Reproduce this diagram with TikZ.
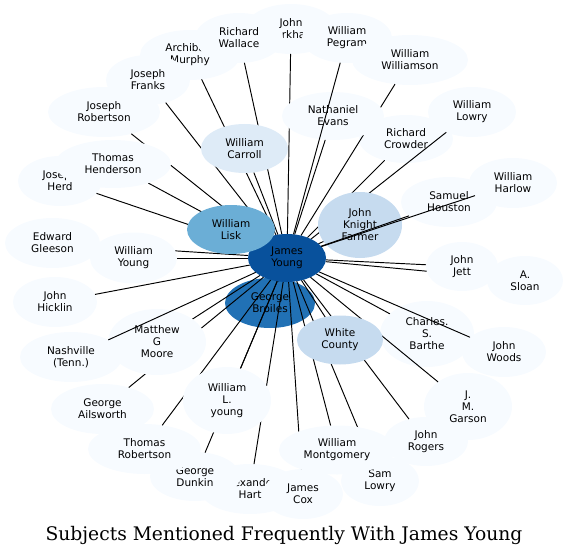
\documentclass[tikz,border=0pt]{standalone}
\usepackage{fontspec}
\newfontfamily\nodefont{DejaVu Sans}
\newfontfamily\titlefont{DejaVu Serif}
\usetikzlibrary{shapes.geometric}
\definecolor{cA}{HTML}{F7FBFF}
\definecolor{cB}{HTML}{DEEBF7}
\definecolor{cC}{HTML}{C6DBEF}
\definecolor{cE}{HTML}{6BAED6}
\definecolor{cG}{HTML}{2171B5}
\definecolor{cH}{HTML}{08519C}
\tikzset{
  anchorshape/.style={ellipse, inner sep=0pt, outer sep=0pt, draw=none},
  lbl/.style={font=\nodefont\fontsize{10.5}{12}\selectfont, align=center, inner sep=0pt, text=black},
  link/.style={draw=black, line width=0.95pt},
}
\newcommand\defnode[5]{%
  \expandafter\gdef\csname nrx#1\endcsname{#4}%
  \expandafter\gdef\csname nry#1\endcsname{#5}%
  \node[anchorshape, minimum width={2*#4pt}, minimum height={2*#5pt}] (#1) at (#2,#3) {};}
\newcommand\shownode[3]{%
  \path[fill=#2] (#1.center) ellipse [x radius={\csname nrx#1\endcsname pt}, y radius={\csname nry#1\endcsname pt}];
  \node[lbl] at (#1.center) {#3};}
\newcommand\lnk[1]{\draw[link] (jy) -- (#1);}
\begin{document}
\begin{tikzpicture}[x=1pt,y=-1pt]
\useasboundingbox (0,0) rectangle (569,556);
% ---- node geometry (invisible, for names) ----
\defnode{jm}{291}{29}{46}{25}
\defnode{rw}{239}{38}{44}{25}
\defnode{wp}{347}{38}{45}{25}
\defnode{am}{190}{55}{50}{25}
\defnode{jf}{148}{80}{42}{25}
\defnode{jr}{104}{112}{56}{25}
\defnode{ww}{410}{60}{58}{25}
\defnode{ne}{333}{116}{51}{24}
\defnode{wl}{472}{112}{44}{25}
\defnode{rc}{406}{139}{47}{24}
\defnode{wc}{244.5}{148.5}{43.5}{24.5}
\defnode{th}{113}{164}{58}{24}
\defnode{jh}{60}{181}{42}{25}
\defnode{wh}{513}{183}{44}{25}
\defnode{sh}{449}{202}{48}{25}
\defnode{jkf}{360}{225}{42}{33}
\defnode{lisk}{231}{229.5}{44}{24.5}
\defnode{eg}{52.5}{243}{47.5}{25}
\defnode{wy}{133.5}{258}{43.5}{25.5}
\defnode{jy}{287}{258}{39}{24}
\defnode{jj}{462}{266.5}{36}{24.5}
\defnode{as}{525}{280.5}{38}{24.5}
\defnode{jhk}{55}{302}{42}{25}
\defnode{gb}{270}{303}{45}{25}
\defnode{wco}{340}{340}{43}{24.5}
\defnode{csb}{427}{334}{47}{33}
\defnode{jw}{504}{352}{42}{25}
\defnode{mgm}{157}{342}{49}{33}
\defnode{nash}{71}{357}{51}{25}
\defnode{jmg}{468}{406.5}{44}{33.5}
\defnode{ga}{102.5}{409}{51.5}{25}
\defnode{wly}{227}{400.5}{44}{33.5}
\defnode{tr}{144.5}{449}{56.5}{25}
\defnode{jro}{426}{441.5}{42}{24.5}
\defnode{wm}{337}{450}{58}{24.5}
\defnode{gd}{195}{476.5}{45}{24.5}
\defnode{ah}{250}{489}{50}{25}
\defnode{jc}{303}{494}{40}{25}
\defnode{sl}{380}{481}{39}{25}
% ---- phase 1: nodes under the edges ----
\shownode{gb}{cG}{George\\Broiles}
\shownode{jm}{cA}{John\\Markham}
\shownode{am}{cA}{Archibald\\Murphy}
\shownode{rw}{cA}{Richard\\Wallace}
\shownode{wp}{cA}{William\\Pegram}
\shownode{ww}{cA}{William\\Williamson}
\shownode{jf}{cA}{Joseph\\Franks}
\shownode{jr}{cA}{Joseph\\Robertson}
\shownode{jh}{cA}{Joseph\\Herd}
\shownode{eg}{cA}{Edward\\Gleeson}
\shownode{jhk}{cA}{John\\Hicklin}
\shownode{nash}{cA}{Nashville\\(Tenn.)}
\shownode{ga}{cA}{George\\Ailsworth}
\shownode{ah}{cA}{Alexander\\Hart}
\shownode{gd}{cA}{George\\Dunkin}
\shownode{tr}{cA}{Thomas\\Robertson}
\shownode{jc}{cA}{James\\Cox}
\shownode{sl}{cA}{Sam\\Lowry}
\shownode{as}{cA}{A.\\Sloan}
\shownode{wh}{cA}{William\\Harlow}
\shownode{wl}{cA}{William\\Lowry}
\shownode{rc}{cA}{Richard\\Crowder}
\shownode{sh}{cA}{Samuel\\Houston}
\shownode{csb}{cA}{Charles.\\S.\\Barthe}
\shownode{jw}{cA}{John\\Woods}
\shownode{jmg}{cA}{J.\\M.\\Garson}
\shownode{jro}{cA}{John\\Rogers}
% ---- phase 2: edges under the later nodes ----
\lnk{jm}\lnk{rw}\lnk{am}\lnk{jf}\lnk{jr}\lnk{ww}\lnk{ne}\lnk{wl}\lnk{rc}
\lnk{wc}\lnk{th}\lnk{jh}\lnk{jkf}\lnk{lisk}\lnk{eg}\lnk{wy}\lnk{jj}\lnk{as}
\lnk{jhk}\lnk{gb}\lnk{wco}\lnk{csb}\lnk{jw}\lnk{mgm}\lnk{jmg}\lnk{ga}\lnk{wly}
\lnk{tr}\lnk{jro}\lnk{wm}\lnk{gd}\lnk{ah}\lnk{jc}\lnk{sl}
% ---- phase 3: nodes over the edges ----
\shownode{th}{cA}{Thomas\\Henderson}
\shownode{wc}{cB}{William\\Carroll}
\shownode{ne}{cA}{Nathaniel\\Evans}
\shownode{jkf}{cC}{John\\Knight\\Farmer}
\shownode{mgm}{cA}{Matthew\\G\\Moore}
\shownode{wly}{cA}{William\\L.\\young}
\shownode{wm}{cA}{William\\Montgomery}
\shownode{jj}{cA}{John\\Jett}
\shownode{wy}{cA}{William\\Young}
\shownode{wco}{cC}{White\\County}
\shownode{jy}{cH}{James\\Young}
\shownode{lisk}{cE}{William\\Lisk}
% ---- phase 4: edges over the nodes ----
\lnk{wp}\lnk{nash}\lnk{sh}\lnk{wh}
% ---- title ----
\node[font=\titlefont\fontsize{18.7}{22}\selectfont, anchor=base, inner sep=0pt] (title) at (284,540) {Subjects Mentioned Frequently With James Young};
\end{tikzpicture}
\end{document}
